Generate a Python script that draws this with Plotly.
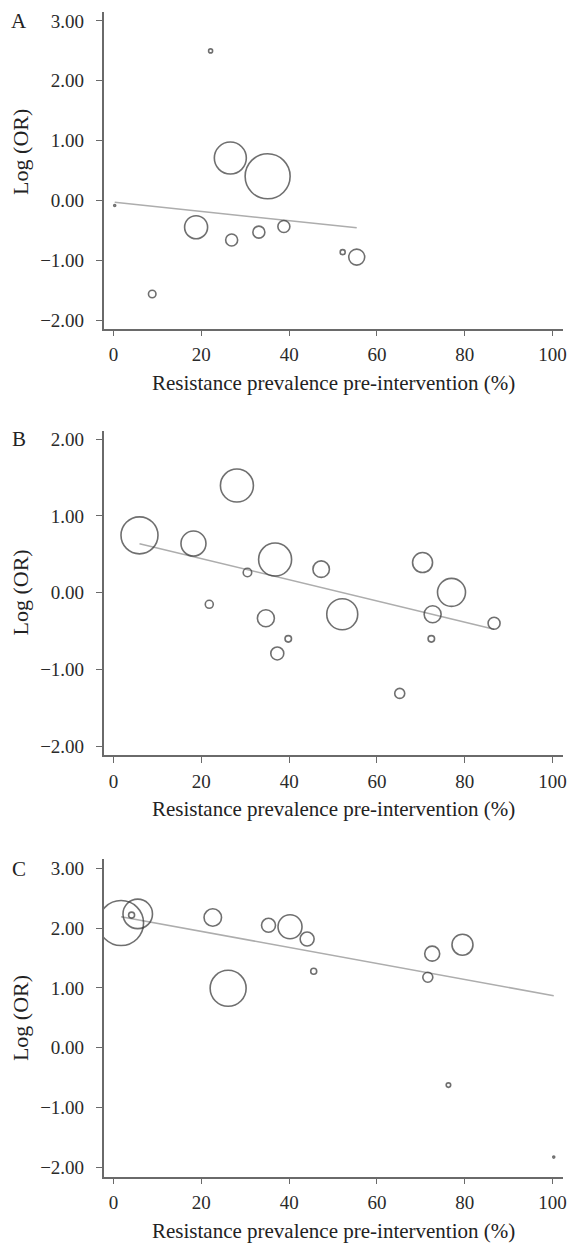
import plotly.graph_objects as go

# ---------------- data ----------------
# Panel A
a_x = [22.1, 26.6, 35.1, 0.25, 18.8, 26.9, 33.1, 38.8, 52.2, 55.4, 8.8]
a_y = [2.50, 0.71, 0.405, -0.083, -0.445, -0.66, -0.528, -0.434, -0.862, -0.945, -1.56]
a_w = [4, 32, 45, 2, 23, 12, 12, 12, 5, 16, 7.5]
a_fit = (-0.028, -0.00771)  # intercept, slope

# Panel B
b_x = [5.9, 28.1, 18.2, 30.5, 36.8, 47.3, 70.4, 77.0, 21.8, 34.7, 52.1, 72.7, 86.7, 39.8, 72.4, 37.3, 65.2]
b_y = [0.747, 1.395, 0.64, 0.264, 0.432, 0.307, 0.393, 0.005, -0.15, -0.332, -0.28, -0.28, -0.397, -0.60, -0.60, -0.79, -1.31]
b_w = [37, 33, 25, 8.5, 33, 16.5, 20, 28, 8, 17, 31, 17, 12, 6.5, 6.5, 13, 10]
b_fit = (0.72, -0.01378)

# Panel C
c_x = [1.7, 5.5, 4.1, 22.6, 35.3, 40.2, 44.1, 45.6, 26.1, 72.6, 79.5, 71.6, 76.3, 100.3]
c_y = [2.087, 2.24, 2.22, 2.18, 2.05, 2.025, 1.82, 1.28, 0.995, 1.575, 1.725, 1.18, -0.625, -1.83]
c_w = [45, 29.5, 6, 17.5, 14, 24, 14, 6, 36, 15, 21, 10, 4.5, 2]
c_fit = (2.215, -0.0134)

x_ticks = [0, 20, 40, 60, 80, 100]
y_ticks_ac = [-2, -1, 0, 1, 2, 3]
y_ticks_b = [-2, -1, 0, 1, 2]
panel_labels = ["A", "B", "C"]
x_title = "Resistance prevalence pre-intervention (%)"
y_title = "Log (OR)"

# ---------------- figure ----------------
W, H = 572, 1246
FONT = "Liberation Serif"
AXC = "#6a6a6a"

fig = go.Figure()

panels = [
    (a_x, a_y, a_w, a_fit, "x", "y"),
    (b_x, b_y, b_w, b_fit, "x2", "y2"),
    (c_x, c_y, c_w, c_fit, "x3", "y3"),
]
for xs, ys, ws, fit, xa, ya in panels:
    x0, x1 = min(xs), max(xs)
    fig.add_trace(go.Scatter(
        x=[x0, x1], y=[fit[0] + fit[1] * x0, fit[0] + fit[1] * x1],
        mode="lines", line=dict(color="#adadad", width=1.6),
        xaxis=xa, yaxis=ya, showlegend=False, hoverinfo="skip"))
    fig.add_trace(go.Scatter(
        x=xs, y=ys, mode="markers",
        marker=dict(size=ws, sizemode="diameter", sizeref=1,
                    color="rgba(0,0,0,0)",
                    line=dict(color="#333333", width=1.6)),
        xaxis=xa, yaxis=ya, showlegend=False))

xdom = [104.5 / W, 566.5 / W]
def ydom(top, bot):
    return [1 - bot / H, 1 - top / H]

axis_common = dict(showline=True, linecolor=AXC, linewidth=1.7,
                   ticks="outside", tickcolor=AXC, ticklen=6, tickwidth=1.3,
                   showgrid=False, zeroline=False,
                   tickfont=dict(family=FONT, size=19, color="#2a2a2a"))

layout = dict(
    width=W, height=H, autosize=False,
    margin=dict(l=0, r=0, t=0, b=0),
    paper_bgcolor="white", plot_bgcolor="white",
    font=dict(family=FONT, color="#222222"),
)
specs = [
    ("", [10, 327.7], [-2.14, 3.15], y_ticks_ac),
    ("2", [430, 755.3], [-2.11, 2.11], y_ticks_b),
    ("3", [860, 1178.3], [-2.155, 3.155], y_ticks_ac),
]
for suf, (top, bot), yr, yt in specs:
    layout["xaxis" + suf] = dict(axis_common, domain=xdom, range=[-2.24, 102.3],
                                 tickvals=x_ticks, anchor="y" + suf,
                                 ticklabelstandoff=2)
    layout["yaxis" + suf] = dict(axis_common, domain=ydom(top, bot), range=yr,
                                 tickvals=yt, tickformat=".2f", anchor="x" + suf,
                                 ticklabelstandoff=8)
fig.update_layout(**layout)

ann = []
letter_y = [19.3, 438.5, 869.5]
ytitle_y = [150, 592, 1019]
xtitle_y = [382, 810, 1233]
for i in range(3):
    ann.append(dict(text=panel_labels[i], x=19 / W, y=1 - letter_y[i] / H,
                    xref="paper", yref="paper", showarrow=False,
                    xanchor="center", yanchor="middle",
                    font=dict(family=FONT, size=21, color="#222222")))
    ann.append(dict(text=y_title, x=20.5 / W, y=1 - ytitle_y[i] / H,
                    xref="paper", yref="paper", showarrow=False, textangle=-90,
                    xanchor="center", yanchor="middle",
                    font=dict(family=FONT, size=22, color="#222222")))
    ann.append(dict(text=x_title, x=335.5 / W, y=1 - xtitle_y[i] / H,
                    xref="paper", yref="paper", showarrow=False,
                    xanchor="center", yanchor="middle",
                    font=dict(family=FONT, size=21, color="#222222")))
fig.update_layout(annotations=ann)

fig.write_html(
    "out.html",
    config={"displayModeBar": False},
    post_script="document.body.style.margin='0';document.body.style.padding='0';"
                "document.body.style.overflow='hidden';",
)
